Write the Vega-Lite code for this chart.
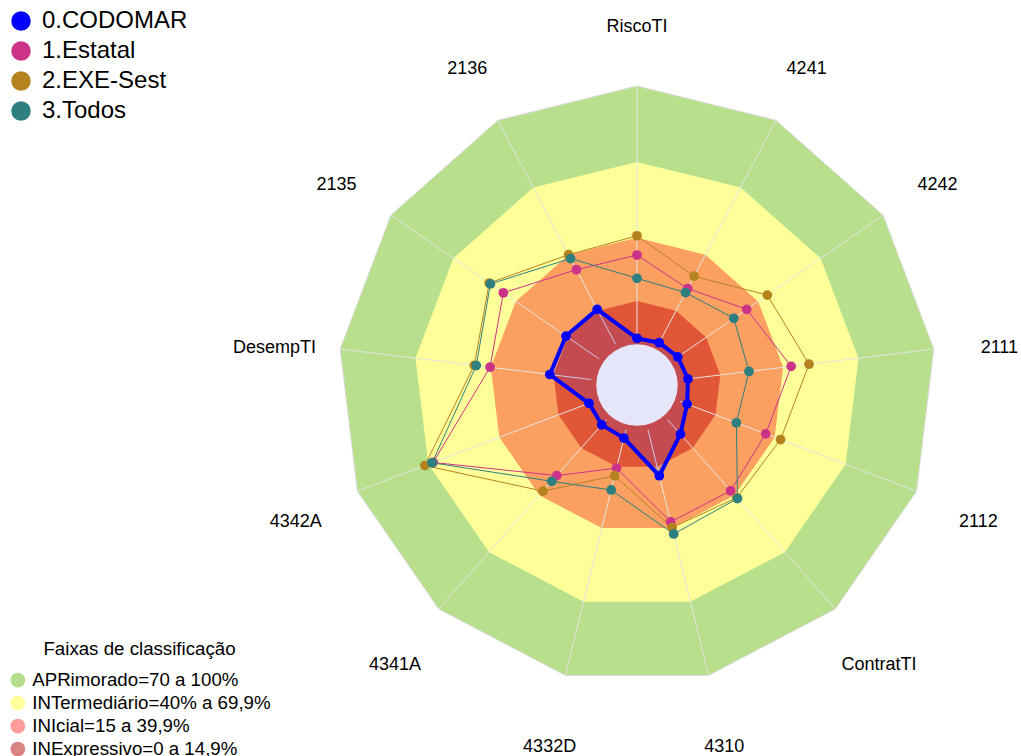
{
  "$schema": "https://vega.github.io/schema/vega-lite/v6.json",
  "width": 1021,
  "height": 756,
  "autosize": {"type": "none"},
  "padding": 0,
  "background": "white",
  "config": {"view": {"stroke": null}, "font": "Liberation Sans"},
  "datasets": {
    "eixos": [
      {"eixo": "RiscoTI", "i": 0, "apr": 100, "int": 70, "ini": 40, "inx": 15},
      {"eixo": "4241", "i": 1, "apr": 100, "int": 70, "ini": 40, "inx": 15},
      {"eixo": "4242", "i": 2, "apr": 100, "int": 70, "ini": 40, "inx": 15},
      {"eixo": "2111", "i": 3, "apr": 100, "int": 70, "ini": 40, "inx": 15},
      {"eixo": "2112", "i": 4, "apr": 100, "int": 70, "ini": 40, "inx": 15},
      {"eixo": "ContratTI", "i": 5, "apr": 100, "int": 70, "ini": 40, "inx": 15},
      {"eixo": "4310", "i": 6, "apr": 100, "int": 70, "ini": 40, "inx": 15},
      {"eixo": "4332D", "i": 7, "apr": 100, "int": 70, "ini": 40, "inx": 15},
      {"eixo": "4341A", "i": 8, "apr": 100, "int": 70, "ini": 40, "inx": 15},
      {"eixo": "4342A", "i": 9, "apr": 100, "int": 70, "ini": 40, "inx": 15},
      {"eixo": "DesempTI", "i": 10, "apr": 100, "int": 70, "ini": 40, "inx": 15},
      {"eixo": "2135", "i": 11, "apr": 100, "int": 70, "ini": 40, "inx": 15},
      {"eixo": "2136", "i": 12, "apr": 100, "int": 70, "ini": 40, "inx": 15}
    ],
    "series": [
      {"serie": "0.CODOMAR", "eixo": "RiscoTI", "valor": 0.3},
      {"serie": "0.CODOMAR", "eixo": "4241", "valor": 0.7},
      {"serie": "0.CODOMAR", "eixo": "4242", "valor": 1.4},
      {"serie": "0.CODOMAR", "eixo": "2111", "valor": 2.1},
      {"serie": "0.CODOMAR", "eixo": "2112", "valor": 3.0},
      {"serie": "0.CODOMAR", "eixo": "ContratTI", "valor": 7.7},
      {"serie": "0.CODOMAR", "eixo": "4310", "valor": 18.7},
      {"serie": "0.CODOMAR", "eixo": "4332D", "valor": 3.4},
      {"serie": "0.CODOMAR", "eixo": "4341A", "valor": 2.8},
      {"serie": "0.CODOMAR", "eixo": "4342A", "valor": 2.1},
      {"serie": "0.CODOMAR", "eixo": "DesempTI", "valor": 16.5},
      {"serie": "0.CODOMAR", "eixo": "2135", "valor": 15.9},
      {"serie": "0.CODOMAR", "eixo": "2136", "valor": 15.6},
      {"serie": "1.Estatal", "eixo": "RiscoTI", "valor": 33.2},
      {"serie": "1.Estatal", "eixo": "4241", "valor": 24.9},
      {"serie": "1.Estatal", "eixo": "4242", "valor": 34.5},
      {"serie": "1.Estatal", "eixo": "2111", "valor": 43.2},
      {"serie": "1.Estatal", "eixo": "2112", "valor": 36.2},
      {"serie": "1.Estatal", "eixo": "ContratTI", "valor": 37.6},
      {"serie": "1.Estatal", "eixo": "4310", "valor": 37.5},
      {"serie": "1.Estatal", "eixo": "4332D", "valor": 15.6},
      {"serie": "1.Estatal", "eixo": "4341A", "valor": 29.6},
      {"serie": "1.Estatal", "eixo": "4342A", "valor": 68.0},
      {"serie": "1.Estatal", "eixo": "DesempTI", "valor": 40.3},
      {"serie": "1.Estatal", "eixo": "2135", "valor": 46.0},
      {"serie": "1.Estatal", "eixo": "2136", "valor": 33.3},
      {"serie": "2.EXE-Sest", "eixo": "RiscoTI", "valor": 40.8},
      {"serie": "2.EXE-Sest", "eixo": "4241", "valor": 30.4},
      {"serie": "2.EXE-Sest", "eixo": "4242", "valor": 44.4},
      {"serie": "2.EXE-Sest", "eixo": "2111", "valor": 50.3},
      {"serie": "2.EXE-Sest", "eixo": "2112", "valor": 42.5},
      {"serie": "2.EXE-Sest", "eixo": "ContratTI", "valor": 41.3},
      {"serie": "2.EXE-Sest", "eixo": "4310", "valor": 39.8},
      {"serie": "2.EXE-Sest", "eixo": "4332D", "valor": 18.7},
      {"serie": "2.EXE-Sest", "eixo": "4341A", "valor": 37.8},
      {"serie": "2.EXE-Sest", "eixo": "4342A", "valor": 71.5},
      {"serie": "2.EXE-Sest", "eixo": "DesempTI", "valor": 46.6},
      {"serie": "2.EXE-Sest", "eixo": "2135", "valor": 52.8},
      {"serie": "2.EXE-Sest", "eixo": "2136", "valor": 40.0},
      {"serie": "3.Todos", "eixo": "RiscoTI", "valor": 24.0},
      {"serie": "3.Todos", "eixo": "4241", "valor": 23.1},
      {"serie": "3.Todos", "eixo": "4242", "valor": 28.3},
      {"serie": "3.Todos", "eixo": "2111", "valor": 26.4},
      {"serie": "3.Todos", "eixo": "2112", "valor": 23.8},
      {"serie": "3.Todos", "eixo": "ContratTI", "valor": 41.7},
      {"serie": "3.Todos", "eixo": "4310", "valor": 42.4},
      {"serie": "3.Todos", "eixo": "4332D", "valor": 24.5},
      {"serie": "3.Todos", "eixo": "4341A", "valor": 32.6},
      {"serie": "3.Todos", "eixo": "4342A", "valor": 68.4},
      {"serie": "3.Todos", "eixo": "DesempTI", "valor": 45.8},
      {"serie": "3.Todos", "eixo": "2135", "valor": 52.2},
      {"serie": "3.Todos", "eixo": "2136", "valor": 38.3}
    ],
    "faixas": [
      {"faixa": "APRimorado=70 a 100%"},
      {"faixa": "INTermediário=40% a 69,9%"},
      {"faixa": "INIcial=15 a 39,9%"},
      {"faixa": "INExpressivo=0 a 14,9%"}
    ],
    "centro": [{"valor": 0}]
  },
  "encoding": {
    "x": {"field": "x", "type": "quantitative", "axis": null, "scale": {"domain": [-251.8, 151.8], "nice": false, "zero": false}},
    "y": {"field": "y", "type": "quantitative", "axis": null, "scale": {"domain": [-146.6, 152.2], "nice": false, "zero": false}}
  },
  "layer": [
    {
      "data": {"name": "eixos"},
      "transform": [
        {"calculate": "(18.2 + datum.apr) * sin(datum.i * 2 * PI / 13)", "as": "x"},
        {"calculate": "(18.2 + datum.apr) * cos(datum.i * 2 * PI / 13)", "as": "y"}
      ],
      "mark": {"type": "line", "interpolate": "linear-closed", "fill": "#B8E08C", "stroke": "#DADADA", "strokeWidth": 1},
      "encoding": {"order": {"field": "i", "type": "quantitative"}}
    },
    {
      "data": {"name": "eixos"},
      "transform": [
        {"calculate": "(18.2 + datum.int) * sin(datum.i * 2 * PI / 13)", "as": "x"},
        {"calculate": "(18.2 + datum.int) * cos(datum.i * 2 * PI / 13)", "as": "y"}
      ],
      "mark": {"type": "line", "interpolate": "linear-closed", "fill": "#FFFF99", "strokeWidth": 0},
      "encoding": {"order": {"field": "i", "type": "quantitative"}}
    },
    {
      "data": {"name": "eixos"},
      "transform": [
        {"calculate": "(18.2 + datum.ini) * sin(datum.i * 2 * PI / 13)", "as": "x"},
        {"calculate": "(18.2 + datum.ini) * cos(datum.i * 2 * PI / 13)", "as": "y"}
      ],
      "mark": {"type": "line", "interpolate": "linear-closed", "fill": "#FCA062", "strokeWidth": 0},
      "encoding": {"order": {"field": "i", "type": "quantitative"}}
    },
    {
      "data": {"name": "eixos"},
      "transform": [
        {"calculate": "(18.2 + datum.inx) * sin(datum.i * 2 * PI / 13)", "as": "x"},
        {"calculate": "(18.2 + datum.inx) * cos(datum.i * 2 * PI / 13)", "as": "y"}
      ],
      "mark": {"type": "line", "interpolate": "linear-closed", "fill": "#E25638", "strokeWidth": 0},
      "encoding": {"order": {"field": "i", "type": "quantitative"}}
    },
    {
      "data": {"name": "eixos"},
      "transform": [
        {"calculate": "18.2 * sin(datum.i * 2 * PI / 13)", "as": "x"},
        {"calculate": "18.2 * cos(datum.i * 2 * PI / 13)", "as": "y"},
        {"calculate": "(18.2 + datum.apr) * sin(datum.i * 2 * PI / 13)", "as": "x2"},
        {"calculate": "(18.2 + datum.apr) * cos(datum.i * 2 * PI / 13)", "as": "y2"}
      ],
      "mark": {"type": "rule", "color": "#E4E4E4", "strokeWidth": 1},
      "encoding": {"x2": {"field": "x2"}, "y2": {"field": "y2"}}
    },
    {
      "data": {"name": "series"},
      "transform": [
        {"filter": "datum.serie === '0.CODOMAR'"},
        {"lookup": "eixo", "from": {"data": {"name": "eixos"}, "key": "eixo", "fields": ["i"]}},
        {"calculate": "(18.2 + datum.valor) * sin(datum.i * 2 * PI / 13)", "as": "x"},
        {"calculate": "(18.2 + datum.valor) * cos(datum.i * 2 * PI / 13)", "as": "y"}
      ],
      "mark": {"type": "line", "interpolate": "linear-closed", "fill": "#0000FF", "fillOpacity": 0.12, "strokeWidth": 0},
      "encoding": {"order": {"field": "i", "type": "quantitative"}}
    },
    {
      "data": {"name": "centro"},
      "transform": [
        {"calculate": "datum.valor", "as": "x"},
        {"calculate": "datum.valor", "as": "y"}
      ],
      "mark": {"type": "point", "shape": "circle", "filled": true, "fill": "#E6E6FA", "opacity": 1, "size": 6650, "strokeWidth": 0}
    },
    {
      "data": {"name": "series"},
      "transform": [
        {"filter": "datum.serie === '0.CODOMAR'"},
        {"lookup": "eixo", "from": {"data": {"name": "eixos"}, "key": "eixo", "fields": ["i"]}},
        {"calculate": "(18.2 + datum.valor) * sin(datum.i * 2 * PI / 13)", "as": "x"},
        {"calculate": "(18.2 + datum.valor) * cos(datum.i * 2 * PI / 13)", "as": "y"}
      ],
      "mark": {"type": "line", "interpolate": "linear-closed", "stroke": "#0000FF", "strokeWidth": 4},
      "encoding": {"order": {"field": "i", "type": "quantitative"}}
    },
    {
      "data": {"name": "series"},
      "transform": [
        {"filter": "datum.serie !== '0.CODOMAR'"},
        {"lookup": "eixo", "from": {"data": {"name": "eixos"}, "key": "eixo", "fields": ["i"]}},
        {"calculate": "(18.2 + datum.valor) * sin(datum.i * 2 * PI / 13)", "as": "x"},
        {"calculate": "(18.2 + datum.valor) * cos(datum.i * 2 * PI / 13)", "as": "y"}
      ],
      "mark": {"type": "line", "interpolate": "linear-closed", "strokeWidth": 1},
      "encoding": {
        "order": {"field": "i", "type": "quantitative"},
        "stroke": {"field": "serie", "type": "nominal", "legend": null,
          "scale": {"domain": ["1.Estatal", "2.EXE-Sest", "3.Todos"], "range": ["#CC3388", "#B5831E", "#2E7F7F"]}}
      }
    },
    {
      "data": {"name": "series"},
      "transform": [
        {"lookup": "eixo", "from": {"data": {"name": "eixos"}, "key": "eixo", "fields": ["i"]}},
        {"calculate": "(18.2 + datum.valor) * sin(datum.i * 2 * PI / 13)", "as": "x"},
        {"calculate": "(18.2 + datum.valor) * cos(datum.i * 2 * PI / 13)", "as": "y"}
      ],
      "mark": {"type": "point", "shape": "circle", "filled": true, "opacity": 1, "size": 95, "strokeWidth": 0},
      "encoding": {
        "color": {"field": "serie", "type": "nominal",
          "scale": {"domain": ["0.CODOMAR", "1.Estatal", "2.EXE-Sest", "3.Todos"], "range": ["#0000FF", "#CC3388", "#B5831E", "#2E7F7F"]},
          "legend": {"orient": "none", "legendX": 9, "legendY": 9, "title": null, "padding": 0,
            "labelFontSize": 24, "labelFont": "Liberation Sans", "labelColor": "#000000",
            "symbolType": "circle", "symbolSize": 380, "symbolStrokeWidth": 0, "symbolOpacity": 1,
            "labelOffset": 9, "rowPadding": 6, "labelLimit": 400}}
      }
    },
    {
      "data": {"name": "eixos"},
      "transform": [
        {"calculate": "144.3 * sin(datum.i * 2 * PI / 13)", "as": "x"},
        {"calculate": "144.3 * cos(datum.i * 2 * PI / 13)", "as": "y"}
      ],
      "mark": {"type": "text", "fontSize": 18, "font": "Liberation Sans", "color": "#000000", "align": "center", "baseline": "middle", "dy": 7},
      "encoding": {"text": {"field": "eixo", "type": "nominal"}}
    },
    {
      "data": {"name": "faixas"},
      "mark": {"type": "point", "shape": "circle", "filled": true, "opacity": 0},
      "encoding": {
        "x": {"datum": 0},
        "y": {"datum": 0},
        "fill": {"field": "faixa", "type": "nominal",
          "scale": {"domain": ["APRimorado=70 a 100%", "INTermediário=40% a 69,9%", "INIcial=15 a 39,9%", "INExpressivo=0 a 14,9%"], "range": ["#B5DE8C", "#FFFF9C", "#FF9B9B", "#D98383"]},
          "legend": {"orient": "none", "legendX": 8.5, "legendY": 640, "title": "Faixas de classificação", "padding": 0,
            "titleFontSize": 18.7, "titleFontWeight": "normal", "titleFont": "Liberation Sans", "titleColor": "#000000", "titleAnchor": "middle", "titlePadding": 12, "titleLimit": 500,
            "labelFontSize": 18.7, "labelFont": "Liberation Sans", "labelColor": "#000000", "labelLimit": 400,
            "symbolType": "circle", "symbolSize": 220, "symbolStrokeWidth": 0, "symbolOpacity": 1,
            "labelOffset": 5, "rowPadding": 3}}
      }
    }
  ]
}
